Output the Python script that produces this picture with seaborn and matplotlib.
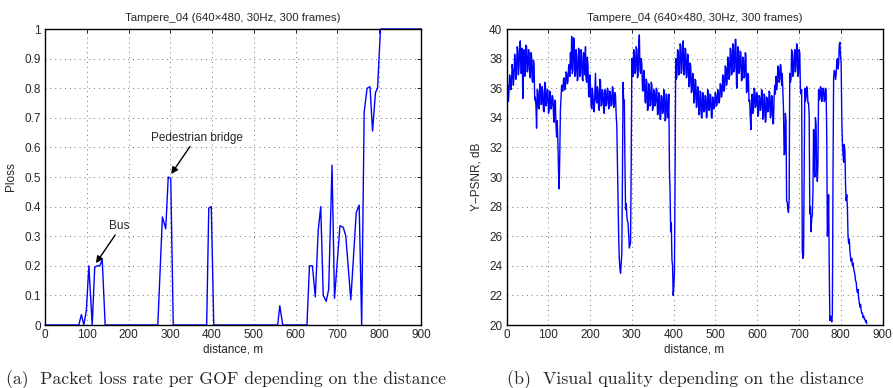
import numpy as np
import matplotlib
matplotlib.use("Agg")
import matplotlib.pyplot as plt
import seaborn as sns

# --- data ---
# (a) packet loss rate per GOF
loss_dist = [0, 81, 87, 93, 99, 105, 113, 119, 125, 131, 137, 144,
             270, 281, 289, 295, 301, 307,
             387, 392, 398, 404,
             557, 562, 569,
             627, 633, 640, 647, 654, 660, 666, 673, 679, 687, 693,
             706, 714, 720, 732, 745, 752, 758,
             764, 771, 778, 784, 791, 796, 803, 900]
loss_val = [0, 0, 0.035, 0, 0.05, 0.2, 0, 0.195, 0.2, 0.2, 0.22, 0,
            0, 0.365, 0.325, 0.5, 0.495, 0,
            0, 0.395, 0.4, 0,
            0, 0.065, 0,
            0, 0.2, 0.2, 0.095, 0.32, 0.4, 0.1, 0.08, 0.12, 0.54, 0.09,
            0.335, 0.33, 0.3, 0.085, 0.38, 0.405, 0,
            0.72, 0.8, 0.805, 0.655, 0.785, 0.8, 1, 1]

# (b) Y-PSNR, one sample every 1.5 m starting at 0 m (one row = 30 m)
psnr_step = 1.5
psnr_val = [
    34.5, 35.2, 36.2, 35.1, 35.8, 36.9, 36.6, 35.9, 36.3, 37.6, 37.2, 36.2, 36.8, 38.3, 37.9, 36.6, 37.0, 38.8, 38.6, 36.9,
    37.4, 38.9, 39.2, 37.0, 37.0, 38.7, 35.3, 37.6, 38.6, 36.8, 36.9, 38.9, 38.8, 37.1, 37.2, 38.6, 38.5, 36.9, 36.7, 38.4,
    38.2, 36.5, 36.4, 37.9, 37.6, 35.2, 35.4, 34.8, 33.3, 35.9, 35.8, 34.7, 34.6, 36.3, 36.2, 34.9, 34.9, 36.1, 35.7, 34.5,
    34.4, 36.4, 36.3, 34.8, 35.0, 35.9, 35.9, 34.3, 34.5, 35.8, 35.6, 34.6, 34.8, 35.5, 35.4, 34.2, 33.7, 35.2, 35.1, 33.4,
    32.7, 33.8, 32.4, 30.5, 29.2, 31.5, 34.5, 35.4, 36.2, 35.9, 35.8, 36.6, 36.7, 35.9, 36.1, 37.1, 37.0, 36.3, 36.4, 37.4,
    37.6, 36.8, 38.4, 37.3, 39.5, 37.0, 37.2, 39.4, 39.3, 36.8, 36.9, 38.6, 38.1, 36.5, 36.6, 38.7, 38.5, 36.8, 37.0, 38.6,
    38.2, 36.6, 36.5, 38.4, 37.8, 36.9, 38.8, 36.6, 36.4, 38.1, 37.6, 35.6, 35.4, 36.9, 36.2, 34.8, 34.6, 36.0, 35.5, 34.5,
    34.4, 35.6, 37.0, 35.2, 35.0, 36.1, 35.9, 34.6, 34.5, 36.6, 36.5, 34.8, 34.9, 35.9, 35.7, 34.5, 34.3, 35.9, 35.8, 34.8,
    35.0, 36.0, 35.9, 34.6, 34.7, 35.8, 35.6, 34.8, 34.9, 36.1, 36.0, 34.7, 34.8, 35.7, 35.5, 34.2, 33.5, 31.0, 28.2, 26.0,
    24.5, 23.8, 23.5, 24.2, 24.8, 30.0, 36.4, 35.0, 35.2, 31.0, 27.8, 28.2, 27.4, 27.0, 26.9, 26.0, 25.2, 25.4, 25.6, 31.0,
    38.0, 37.0, 36.8, 38.6, 38.4, 37.0, 37.2, 38.8, 38.6, 36.7, 36.9, 38.9, 39.6, 37.2, 37.0, 38.0, 37.6, 35.9, 35.8, 37.2,
    36.9, 35.1, 35.0, 36.6, 36.4, 34.5, 34.6, 36.3, 36.0, 34.8, 34.9, 36.4, 36.2, 34.5, 34.7, 35.9, 35.8, 34.8, 35.0, 36.0,
    35.9, 34.2, 34.3, 35.7, 35.6, 33.9, 33.9, 35.5, 35.4, 34.3, 34.4, 35.9, 35.8, 33.8, 33.9, 35.6, 35.5, 34.0, 34.2, 35.6,
    30.6, 29.0, 26.3, 26.9, 24.4, 24.0, 22.0, 22.6, 23.6, 30.0, 38.0, 36.6, 36.8, 38.6, 38.5, 36.9, 37.1, 39.0, 38.9, 37.0,
    37.3, 38.9, 39.2, 36.9, 37.0, 38.7, 38.6, 36.7, 36.8, 38.3, 38.2, 36.1, 36.2, 37.7, 37.5, 35.7, 35.8, 37.0, 36.9, 35.0,
    35.2, 36.6, 36.5, 34.7, 34.8, 36.1, 36.0, 34.2, 34.3, 35.8, 35.7, 34.0, 34.0, 35.7, 35.6, 34.4, 34.5, 35.5, 35.4, 34.0,
    34.1, 35.9, 35.8, 34.5, 34.6, 35.6, 35.5, 34.0, 34.0, 35.4, 35.3, 34.6, 34.7, 35.7, 35.6, 34.8, 34.9, 35.9, 35.8, 35.0,
    35.2, 36.3, 36.2, 35.4, 35.6, 36.9, 36.8, 35.8, 36.0, 37.5, 37.4, 36.2, 36.4, 38.1, 38.0, 36.6, 36.8, 38.7, 38.6, 36.9,
    37.0, 39.0, 38.9, 37.1, 37.3, 39.3, 39.3, 36.2, 36.0, 38.8, 38.7, 37.0, 37.2, 38.5, 38.4, 36.5, 36.6, 38.1, 38.0, 36.7,
    36.8, 38.4, 38.3, 35.7, 35.8, 37.0, 36.9, 35.1, 35.2, 34.0, 33.2, 35.0, 35.6, 34.3, 34.4, 36.0, 35.9, 34.7, 34.8, 35.7,
    35.6, 34.1, 34.2, 35.5, 35.4, 34.5, 34.6, 35.9, 35.8, 33.9, 34.0, 35.6, 35.5, 33.7, 33.8, 35.4, 35.3, 34.4, 34.5, 35.8,
    35.7, 34.0, 34.1, 35.5, 35.4, 33.6, 33.6, 35.3, 36.2, 35.6, 36.8, 35.9, 36.3, 37.5, 37.4, 36.4, 36.6, 37.6, 37.5, 36.2,
    37.0, 35.8, 34.6, 31.5, 31.6, 34.3, 33.8, 28.4, 28.3, 27.8, 27.6, 28.4, 37.0, 36.4, 36.6, 38.6, 38.3, 36.8, 37.0, 38.2,
    38.6, 37.1, 37.4, 39.0, 38.9, 36.8, 37.0, 38.6, 38.4, 36.0, 35.6, 35.9, 25.0, 24.5, 24.7, 30.0, 36.0, 35.1, 35.4, 36.1,
    35.9, 35.0, 35.0, 34.2, 27.5, 28.0, 26.3, 27.2, 27.4, 29.0, 33.2, 31.0, 30.0, 34.0, 33.5, 30.5, 29.7, 31.0, 35.9, 35.2,
    35.3, 36.1, 36.0, 35.1, 35.4, 36.0, 35.9, 35.1, 35.2, 36.0, 35.9, 33.0, 26.0, 27.0, 28.8, 24.0, 20.3, 20.6, 20.5, 20.2,
    20.7, 30.0, 36.7, 37.2, 37.1, 36.6, 36.9, 37.8, 38.0, 37.3, 37.6, 38.9, 39.1, 38.2, 37.7, 34.0, 32.4, 31.5, 31.0, 32.2,
    31.8, 29.5, 28.4, 28.8, 27.9, 26.0, 25.5, 25.8, 25.0, 24.6, 24.3, 24.5, 24.0, 24.2, 23.8, 23.6, 23.4, 23.0, 22.9, 22.4,
    22.2, 22.4, 21.8, 21.5, 21.2, 21.4, 21.0, 20.8, 20.8, 20.5, 20.6, 20.4, 20.4, 20.2, 20.3, 20.1,
]
psnr_dist = np.arange(len(psnr_val)) * psnr_step

title = "Tampere_04 (640\u00d7480, 30Hz, 300 frames)"
x_ticks = list(range(0, 901, 100))
loss_ticks = [0, 0.1, 0.2, 0.3, 0.4, 0.5, 0.6, 0.7, 0.8, 0.9, 1]
loss_ticklabels = ["0", "0.1", "0.2", "0.3", "0.4", "0.5", "0.6", "0.7", "0.8", "0.9", "1"]
psnr_ticks = list(range(20, 41, 2))


def style_axes(ax):
    """MATLAB-ish box with dotted grid."""
    ax.grid(True, linestyle=(0, (1, 4)), color="0.45", linewidth=0.7)
    ax.tick_params(direction="in", length=3, width=0.7, labelsize=8.5,
                   top=True, right=True, pad=3)
    for s in ax.spines.values():
        s.set_visible(True)
        s.set_linewidth(1.0)
        s.set_color("black")
    ax.set_xlim(0, 900)
    ax.set_xticks(x_ticks)
    ax.set_xlabel("distance, m", fontsize=8.5, labelpad=2)
    ax.set_title(title, fontsize=8.2, pad=6)


sns.set_style("white")
plt.rcParams["font.family"] = ["Liberation Sans", "DejaVu Sans"]

fig = plt.figure(figsize=(8.93, 3.88), dpi=100)
ax1 = fig.add_axes([45 / 893, 63 / 388, 376 / 893, 296 / 388])
ax2 = fig.add_axes([506.5 / 893, 63 / 388, 376 / 893, 296 / 388])

# --- (a) Ploss ---
sns.lineplot(x=loss_dist, y=loss_val, ax=ax1, color="#0000ff", linewidth=1.0,
             estimator=None, sort=False)
ax1.lines[-1].set_clip_on(False)
style_axes(ax1)
ax1.set_ylim(0, 1)
ax1.set_yticks(loss_ticks)
ax1.set_yticklabels(loss_ticklabels)
ax1.set_ylabel("Ploss", fontsize=8.5, labelpad=5)

arrow = dict(arrowstyle="-|>", color="black", lw=1.0, mutation_scale=10,
             shrinkA=0, shrinkB=0)
ax1.annotate("", xy=(122, 0.209), xytext=(168, 0.304), arrowprops=arrow)
ax1.text(177, 0.333, "Bus", fontsize=8.5, ha="center", va="center")
ax1.annotate("", xy=(302, 0.51), xytext=(347, 0.603), arrowprops=arrow)
ax1.text(363, 0.631, "Pedestrian bridge", fontsize=8.5, ha="center", va="center")

# --- (b) Y-PSNR ---
sns.lineplot(x=psnr_dist, y=psnr_val, ax=ax2, color="#0000ff", linewidth=1.0,
             estimator=None, sort=False)
style_axes(ax2)
ax2.set_ylim(20, 40)
ax2.set_yticks(psnr_ticks)
ax2.set_ylabel("Y\u2212PSNR, dB", fontsize=8.5, labelpad=5)

# captions
fig.text(226 / 893, 1 - 380 / 388,
         "(a)  Packet loss rate per GOF depending on the distance",
         fontsize=12.7, family="cmr10", ha="center", va="center")
fig.text(685 / 893, 1 - 380 / 388,
         "(b)  Visual quality depending on the distance",
         fontsize=12.9, family="cmr10", ha="center", va="center")

fig.savefig("out.png", dpi=100)
